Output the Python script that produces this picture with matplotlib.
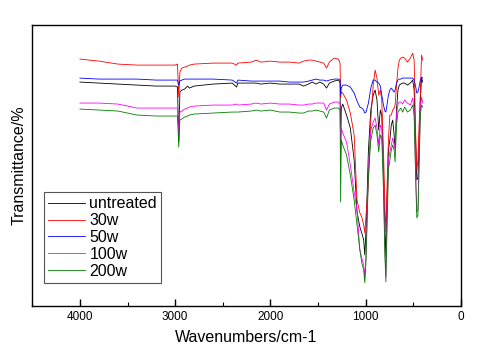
import numpy as np
import matplotlib
matplotlib.use("Agg")
import matplotlib.pyplot as plt
from matplotlib.ticker import MultipleLocator

plt.rcParams['font.family'] = ['Liberation Sans', 'DejaVu Sans']

# wavenumber grid (cm-1)
wavenumber = [4000, 3800, 3600, 3400, 3200, 3000,
              2975, 2962, 2950, 2930, 2900, 2870, 2850, 2800,
              2600, 2400, 2355, 2340,
              2200, 2150, 2100, 2000, 1900, 1800, 1700,
              1650, 1600, 1560, 1520, 1480, 1440, 1410, 1380, 1330, 1285,
              1268, 1262, 1255, 1240, 1200, 1160, 1120, 1090, 1060, 1040,
              1020, 1008, 995, 970, 945, 920, 900, 880, 862, 845,
              830, 812, 797, 787, 775, 760, 745, 730, 715, 700,
              690, 675, 660, 645, 630, 610, 590, 560, 530, 505,
              490, 475, 462, 450, 440, 425, 412, 400]

# transmittance (arbitrary units, curves offset as in the original)
untreated = [224, 223, 222, 221, 220, 220,
             219, 164, 214, 216, 217, 220, 218, 220,
             222, 223, 219, 223,
             223, 223, 222, 223, 222, 222, 222,
             220, 222, 224, 222, 224, 222, 218, 223, 225, 226,
             224, 151, 198, 202, 191, 178, 146, 94, 79, 73,
             66, 51, 76, 156, 196, 211, 216, 206, 176, 196,
             191, 136, 76, 49, 106, 156, 166, 181, 186, 171,
             156, 196, 216, 221, 222, 223, 223, 221, 223, 226,
             216, 166, 126, 128, 156, 206, 228, 224]

w30 = [247, 245, 242, 241, 241, 241,
       242, 209, 234, 238, 239, 240, 241, 242,
       243, 243, 241, 243,
       244, 246, 244, 245, 244, 244, 243,
       245, 246, 246, 245, 244, 243, 238, 244, 248, 247,
       243, 209, 214, 213, 206, 193, 171, 106, 93, 89,
       81, 73, 91, 123, 186, 221, 236, 228, 211, 216,
       206, 156, 101, 74, 116, 166, 191, 191, 196, 198,
       201, 221, 238, 246, 248, 249, 248, 244, 248, 253,
       246, 176, 136, 146, 176, 211, 251, 246]

w50 = [228, 227, 227, 227, 226, 226,
       226, 221, 225, 226, 227, 227, 227, 227,
       227, 226, 223, 226,
       225, 225, 225, 225, 225, 224, 224,
       224, 225, 226, 227, 226, 226, 225, 226, 227, 227,
       226, 211, 218, 221, 221, 219, 213, 205, 199, 198,
       196, 193, 194, 203, 218, 226, 226, 224, 223, 220,
       211, 201, 195, 194, 201, 211, 216, 218, 216, 214,
       216, 223, 226, 227, 227, 228, 228, 228, 228, 228,
       226, 220, 213, 214, 218, 226, 229, 228]

w100 = [203, 203, 202, 198, 198, 198,
        198, 171, 194, 195, 197, 198, 199, 200,
        201, 201, 202, 201,
        202, 203, 202, 203, 202, 202, 201,
        201, 202, 202, 203, 203, 203, 196, 202, 204, 204,
        202, 156, 178, 173, 164, 141, 114, 96, 56, 48,
        41, 29, 51, 136, 176, 184, 188, 178, 161, 181,
        178, 126, 56, 29, 86, 146, 154, 161, 168, 161,
        159, 191, 202, 204, 204, 202, 206, 203, 201, 208,
        196, 136, 94, 96, 136, 196, 209, 203]

w200 = [197, 196, 195, 191, 190, 190,
        190, 159, 186, 187, 189, 190, 191, 192,
        193, 194, 194, 194,
        195, 196, 195, 196, 194, 194, 193,
        193, 195, 195, 196, 195, 194, 188, 196, 198, 198,
        196, 104, 166, 161, 151, 131, 106, 81, 56, 43,
        36, 23, 46, 131, 166, 178, 181, 171, 154, 171,
        168, 116, 51, 24, 76, 136, 146, 156, 161, 156,
        144, 181, 194, 196, 198, 194, 199, 194, 196, 201,
        191, 131, 88, 91, 131, 191, 201, 199]

labels = ['untreated', '30w', '50w', '100w', '200w']
colors = ['black', 'red', 'blue', 'magenta', 'green']
series = [untreated, w30, w50, w100, w200]

fig = plt.figure(figsize=(4.82, 3.59), dpi=100)
ax = fig.add_axes([0.067, 0.148, 0.889, 0.782])

for y, lab, c in zip(series, labels, colors):
    ax.plot(wavenumber, y, color=c, lw=0.6, label=lab)

ax.set_xlim(4500, 0)
ax.set_ylim(0, 281)
ax.xaxis.set_major_locator(MultipleLocator(1000))
ax.xaxis.set_minor_locator(MultipleLocator(500))
ax.tick_params(axis='x', which='both', direction='in', top=False, labelsize=8.5)
ax.tick_params(axis='x', which='major', length=5, width=1)
ax.tick_params(axis='x', which='minor', length=3, width=0.8)
ax.set_yticks([])
for s in ax.spines.values():
    s.set_linewidth(1.0)

ax.set_xlabel('Wavenumbers/cm-1', fontsize=11.5, labelpad=5)
ax.set_ylabel('Transmittance/%', fontsize=11.5, labelpad=4)

leg = ax.legend(loc='lower left', bbox_to_anchor=(0.027, 0.082), fontsize=11.5,
                frameon=True, fancybox=False, framealpha=1, edgecolor='#555555',
                handlelength=2.3, handletextpad=0.3, labelspacing=0.12,
                borderpad=0.25, borderaxespad=0)
leg.get_frame().set_linewidth(0.8)

fig.savefig('out.png', dpi=100)
